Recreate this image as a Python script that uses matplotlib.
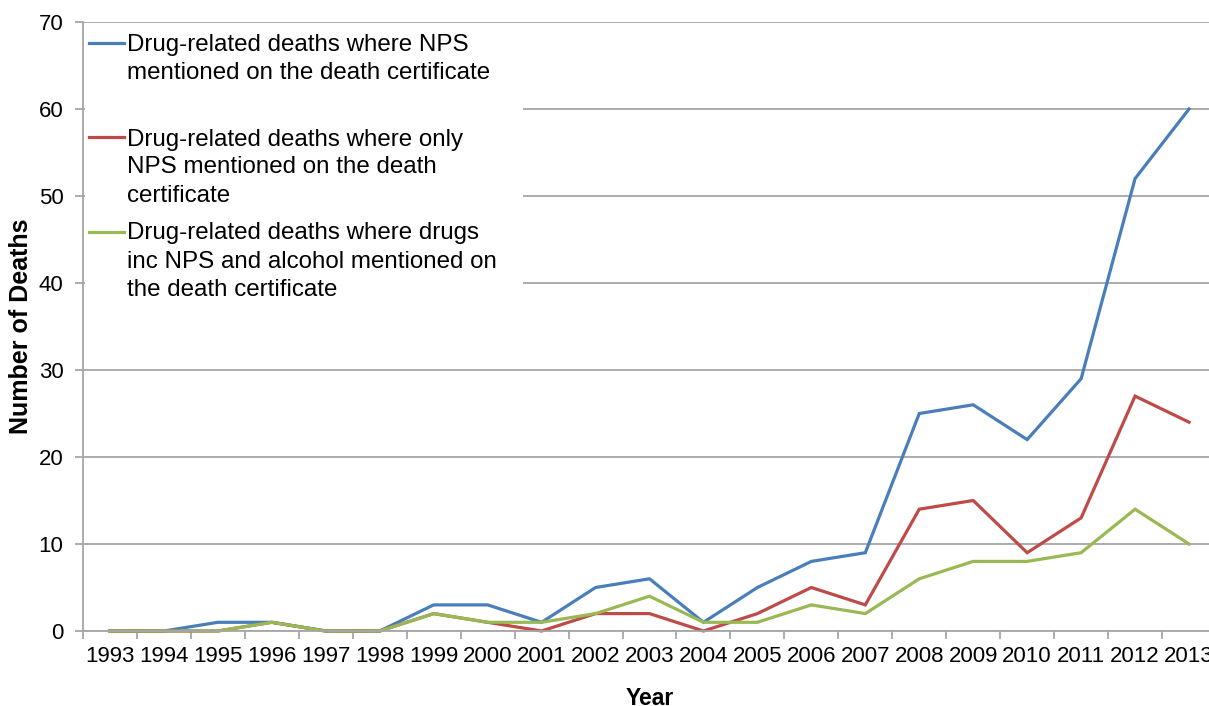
import matplotlib
matplotlib.use("Agg")
import matplotlib.pyplot as plt
from matplotlib.patches import Rectangle
from matplotlib.lines import Line2D

plt.rcParams['font.family'] = ['Liberation Sans', 'DejaVu Sans']

years = list(range(1993, 2014))
nps_mentioned = [0, 0, 1, 1, 0, 0, 3, 3, 1, 5, 6, 1, 5, 8, 9, 25, 26, 22, 29, 52, 60]
nps_only = [0, 0, 0, 1, 0, 0, 2, 1, 0, 2, 2, 0, 2, 5, 3, 14, 15, 9, 13, 27, 24]
nps_and_alcohol = [0, 0, 0, 1, 0, 0, 2, 1, 1, 2, 4, 1, 1, 3, 2, 6, 8, 8, 9, 14, 10]

series_labels = [
    ["Drug-related deaths where NPS", "mentioned on the death certificate"],
    ["Drug-related deaths where only", "NPS mentioned on the death", "certificate"],
    ["Drug-related deaths where drugs", "inc NPS and alcohol mentioned on", "the death certificate"],
]
colors = ["#4a7ebb", "#be4b48", "#98b954"]
y_ticks = [0, 10, 20, 30, 40, 50, 60, 70]

W, H = 1209, 706
fig = plt.figure(figsize=(W / 100, H / 100), dpi=100)
fig.patch.set_facecolor("white")

# axes box in pixel terms (plot area runs slightly past the right edge)
left_px, right_px, top_px, bottom_px = 83, 1216, 22, 631
ax = fig.add_axes([left_px / W, 1 - bottom_px / H,
                   (right_px - left_px) / W, (bottom_px - top_px) / H])

x = list(range(len(years)))
for vals, c in zip([nps_mentioned, nps_only, nps_and_alcohol], colors):
    ax.plot(x, vals, color=c, lw=2.3, solid_joinstyle="miter", zorder=3, clip_on=False)

ax.set_xlim(-0.5, len(years) - 0.5)
ax.set_ylim(0, 70)
ax.set_yticks(y_ticks)
ax.set_yticklabels([str(v) for v in y_ticks])
ax.set_xticks(x)
ax.set_xticklabels([str(y) for y in years])
ax.set_xticks([i - 0.5 for i in range(len(years) + 1)], minor=True)

grid_c = "#a6a6a6"
ax.grid(axis="y", color=grid_c, lw=1.3, zorder=0)
ax.set_axisbelow(True)
for s in ["top", "right"]:
    ax.spines[s].set_visible(False)
for s in ["left", "bottom"]:
    ax.spines[s].set_color(grid_c)
    ax.spines[s].set_linewidth(1.3)
    ax.spines[s].set_zorder(5)

ax.tick_params(axis="x", which="major", length=0, labelsize=16, pad=11, colors="black")
ax.tick_params(axis="x", which="minor", length=6, width=1.3, color=grid_c, direction="out")
ax.tick_params(axis="y", length=6, width=1.3, color=grid_c, labelsize=16, pad=8,
               labelcolor="black")

ax.set_xlabel("Year", fontsize=16.5, fontweight="bold")
ax.set_ylabel("Number of Deaths", fontsize=18, fontweight="bold")
ax.xaxis.set_label_coords((650 - left_px) / (right_px - left_px),
                          -(687 - bottom_px) / (bottom_px - top_px))
ax.yaxis.set_label_coords(-(left_px - 33) / (right_px - left_px), 0.5)

# legend: white panel over the gridlines, handle aligned with first text line
def fx(px):
    return px / W

def fy(py):
    return 1 - py / H

fig.patches.append(Rectangle((fx(85), fy(303)), fx(523) - fx(85), fy(24) - fy(303),
                             transform=fig.transFigure, facecolor="white",
                             edgecolor="none", zorder=4))
handle_y = [43, 137, 232]
baselines = [[51.5, 79.3], [145.7, 173.4, 201.5], [239.5, 267.5, 295.5]]
for lines, c, hy, bls in zip(series_labels, colors, handle_y, baselines):
    fig.lines.append(Line2D([fx(89), fx(124)], [fy(hy), fy(hy)], transform=fig.transFigure,
                            color=c, lw=2.3, zorder=6))
    for line, bl in zip(lines, bls):
        fig.text(fx(127), fy(bl), line, fontsize=17.4, va="baseline", ha="left",
                 color="black", zorder=6)

fig.savefig("out.png", dpi=100, facecolor="white")
